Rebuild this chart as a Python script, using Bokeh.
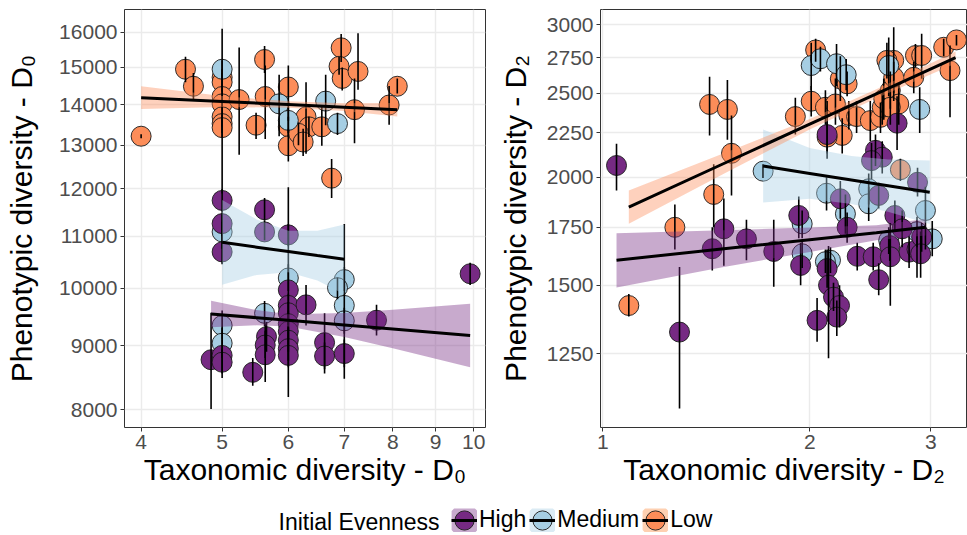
from bokeh.plotting import figure
from bokeh.layouts import column, row
from bokeh.models import Range1d, FixedTicker, Legend, LegendItem, Label, BasicTickFormatter
from bokeh.embed import file_html
from bokeh.resources import INLINE

FONT = "Liberation Sans"
GROUPS = ["High", "Medium", "Low"]
COLORS = {"High": "#762A83", "Medium": "#A6CEE3", "Low": "#FC8D59"}
# ribbon colours (alpha 0.4 over white), used for the legend key backgrounds
KEY_BG = {"High": "#C8AACD", "Medium": "#DBEBF4", "Low": "#FED0B1"}

# ---------------- Panel 1: D0 ----------------
d0_xticks = [4, 5, 6, 7, 8, 9, 10]
d0_xlabels = ["4", "5", "6", "7", "8", "9", "10"]
d0_yticks = [8000, 9000, 10000, 11000, 12000, 13000, 14000, 15000, 16000]
d0_ylabels = ["8000", "9000", "10000", "11000", "12000", "13000", "14000", "15000", "16000"]

d0_high_x = [5.0, 5.0, 5.0, 5.62, 5.62, 6.0, 6.0, 6.0, 6.0, 6.0, 6.0, 6.0, 6.0, 6.0, 6.3, 6.63, 6.63, 7.0, 7.65, 9.9, 5.65, 5.63, 5.63, 5.44, 4.85, 5.0, 5.0]
d0_high_y = [11750, 11260, 10690, 11550, 11090, 11030, 9970, 9690, 9560, 9370, 9240, 9090, 8950, 8840, 9700, 9050, 8830, 8870, 9430, 10270, 9150, 9010, 8850, 8570, 8770, 8840, 8730]
d0_high_lo = [11500, 11000, 10450, 11330, 10920, 10800, 8190, 9450, 9350, 9150, 9050, 8900, 8750, 8650, 9340, 8550, 8620, 8650, 9170, 10060, 8900, 8800, 8420, 8360, 8010, 8480, 8550]
d0_high_hi = [12000, 11500, 11300, 11800, 11330, 11250, 12040, 9900, 9750, 9600, 9450, 9300, 9150, 9050, 10060, 9550, 9050, 9100, 9700, 10480, 9400, 9250, 9370, 8800, 9560, 9100, 8950]

d0_med_x = [5.0, 5.85, 6.0, 6.65, 6.87, 5.0, 6.0, 7.0, 6.87, 7.0, 7.0, 5.0, 5.0, 5.62]
d0_med_y = [14950, 14030, 13610, 14100, 13530, 11090, 10190, 10160, 10010, 9690, 9420, 9340, 9040, 9550]
d0_med_lo = [14700, 13220, 13300, 13490, 13250, 10750, 9950, 9950, 9800, 8470, 9200, 9100, 8800, 9330]
d0_med_hi = [15200, 14800, 13950, 14800, 13800, 11450, 10450, 10400, 10200, 11250, 9650, 9600, 9300, 9770]

d0_low_x = [4.0, 4.52, 4.62, 5.0, 5.0, 5.0, 5.0, 5.0, 5.0, 5.0, 5.24, 5.62, 5.63, 5.49, 6.0, 6.0, 6.0, 6.3, 6.35, 6.17, 6.25, 6.58, 6.94, 6.9, 6.96, 7.27, 7.2, 6.76, 7.92, 8.1]
d0_low_y = [13220, 14950, 14490, 14730, 14600, 14220, 14030, 13700, 13530, 13430, 14140, 15220, 14220, 13490, 14470, 13450, 12990, 13700, 13450, 13290, 13080, 13450, 15550, 15030, 14700, 14890, 13880, 12240, 14000, 14490]
d0_low_lo = [13170, 14600, 14150, 14500, 14350, 13950, 11900, 13450, 13300, 13200, 12780, 14850, 13150, 13150, 13600, 13200, 12620, 12800, 13200, 13000, 12750, 12990, 15150, 14800, 14380, 14400, 13050, 11800, 13500, 14300]
d0_low_hi = [13270, 15300, 14850, 14950, 14850, 14500, 16100, 13950, 13750, 13650, 15560, 15600, 15050, 13800, 15050, 13700, 13400, 14600, 13700, 13550, 13400, 13950, 15950, 15300, 15000, 15970, 14700, 12680, 14500, 14700]

# fitted lines and confidence ribbons
d0_high_fx = [4.85, 5.5, 6.0, 7.0, 8.0, 9.9]
d0_high_fy = [9540, 9474, 9428, 9348, 9279, 9170]
d0_high_flo = [9311, 9342, 9321, 9145, 8957, 8650]
d0_high_fhi = [9775, 9607, 9536, 9556, 9613, 9720]

d0_med_fx = [5.0, 5.5, 6.0, 6.5, 7.0]
d0_med_fy = [10880, 10784, 10698, 10618, 10545]
d0_med_flo = [10065, 10248, 10296, 10144, 9892]
d0_med_fhi = [11761, 11348, 11115, 11114, 11241]

d0_low_fx = [4.0, 5.0, 6.0, 7.0, 8.1]
d0_low_fy = [14190, 14091, 14011, 13944, 13880]
d0_low_flo = [13898, 13951, 13927, 13847, 13709]
d0_low_fhi = [14488, 14232, 14095, 14042, 14054]

# ---------------- Panel 2: D2 ----------------
d2_xticks = [1, 2, 3]
d2_xlabels = ["1", "2", "3"]
d2_yticks = [1250, 1500, 1750, 2000, 2250, 2500, 2750, 3000]
d2_ylabels = ["1250", "1500", "1750", "2000", "2250", "2500", "2750", "3000"]

d2_high_x = [1.047, 1.293, 1.443, 1.5, 1.618, 1.773, 1.928, 1.94, 2.05, 2.12, 2.13, 2.166, 2.21, 2.19, 2.12, 2.216, 2.267, 2.345, 2.474, 2.52, 2.615, 2.62, 2.66, 2.726, 2.79, 2.865, 2.91, 2.9, 2.68, 2.493, 2.55, 2.46, 2.52, 2.87]
d2_high_y = [2063, 1324, 1653, 1743, 1697, 1641, 1806, 1581, 1366, 1568, 1500, 1453, 1421, 1378, 2240, 1888, 1750, 1620, 1618, 1522, 1667, 1618, 1806, 1743, 1638, 1650, 1705, 1631, 2309, 2148, 2109, 2090, 1905, 1973]
d2_high_lo = [1930, 1080, 1560, 1580, 1603, 1494, 1700, 1500, 1290, 1490, 1235, 1400, 1340, 1310, 2100, 1790, 1680, 1560, 1560, 1460, 1600, 1420, 1730, 1660, 1570, 1530, 1640, 1530, 2150, 2060, 2020, 1990, 1840, 1900]
d2_high_hi = [2186, 1574, 1750, 1890, 1785, 1786, 1900, 1680, 1450, 1650, 1665, 1510, 1500, 1440, 2450, 1980, 1820, 1680, 1680, 1590, 1740, 1770, 1880, 1830, 1710, 1720, 1770, 1730, 2480, 2240, 2200, 2190, 1970, 2050]

d2_med_x = [1.711, 2.01, 2.073, 2.188, 2.26, 2.606, 2.891, 2.116, 2.437, 2.437, 2.254, 2.947, 3.015, 1.95, 1.95, 2.144, 2.108, 2.606, 2.865]
d2_med_y = [2032, 2692, 2741, 2705, 2627, 2692, 2395, 1916, 1939, 1863, 1814, 1830, 1697, 1766, 1631, 1603, 1597, 1690, 1730]
d2_med_lo = [1995, 2520, 2650, 2550, 2520, 2480, 2250, 1830, 1860, 1780, 1720, 1650, 1620, 1700, 1570, 1550, 1550, 1630, 1660]
d2_med_hi = [2070, 2860, 2830, 2850, 2740, 2900, 2540, 2000, 2020, 1950, 1910, 1950, 1780, 1830, 1690, 1660, 1650, 1750, 1800]

d2_low_x = [1.091, 1.273, 1.43, 1.518, 1.539, 1.45, 1.906, 2.01, 2.04, 2.108, 2.18, 2.216, 2.267, 2.28, 2.23, 2.34, 2.45, 2.535, 2.55, 2.563, 2.62, 2.65, 2.65, 2.695, 2.62, 2.834, 2.85, 2.91, 3.133, 3.27, 3.2, 2.71, 2.59, 2.12]
d2_low_y = [1421, 1750, 2427, 2395, 2131, 1910, 2350, 2448, 2806, 2409, 2430, 2598, 2564, 2357, 2235, 2350, 2325, 2345, 2409, 2463, 2519, 2609, 2729, 2430, 2409, 2609, 2765, 2765, 2826, 2882, 2656, 2040, 2729, 2225]
d2_low_lo = [1380, 1650, 2235, 2210, 1905, 1750, 2240, 2350, 2720, 2300, 2300, 2450, 2480, 2270, 2130, 2250, 2200, 2250, 2300, 2330, 2400, 2500, 2450, 2300, 2300, 2500, 2680, 2600, 2760, 2840, 2345, 1980, 2600, 2130]
d2_low_hi = [1465, 1860, 2612, 2590, 2357, 2070, 2470, 2550, 2890, 2520, 2600, 2760, 2650, 2450, 2340, 2450, 2450, 2440, 2520, 2600, 2650, 2720, 2980, 2560, 2520, 2720, 2850, 2930, 2890, 2920, 2840, 2100, 2860, 2320]

d2_high_fx = [1.047, 1.5, 2.0, 2.5, 2.947]
d2_high_fy = [1603, 1653, 1693, 1725, 1750]
d2_high_flo = [1491, 1574, 1639, 1691, 1712]
d2_high_fhi = [1723, 1736, 1749, 1760, 1789]

d2_med_fx = [1.711, 2.0, 2.3, 2.6, 2.99]
d2_med_fy = [2060, 2020, 1985, 1955, 1921]
d2_med_flo = [1869, 1888, 1862, 1824, 1766]
d2_med_fhi = [2270, 2161, 2116, 2096, 2090]

d2_low_fx = [1.091, 1.5, 2.0, 2.5, 3.26]
d2_low_fy = [1847, 2074, 2303, 2497, 2750]
d2_low_flo = [1767, 2018, 2271, 2467, 2707]
d2_low_fhi = [1930, 2132, 2335, 2527, 2794]


def make_panel(width, min_left, min_right, xr, yr, xticks, xlabels, yticks, ylabels,
               xtitle, ytitle, ytitle_standoff, pts, fits):
    p = figure(width=width, height=497, x_axis_type="log", y_axis_type="log",
               x_range=Range1d(*xr), y_range=Range1d(*yr),
               output_backend="svg", toolbar_location=None,
               min_border_left=min_left, min_border_right=min_right,
               min_border_top=9, min_border_bottom=70)
    p.outline_line_color = "#333333"
    p.outline_line_width = 1
    p.background_fill_color = "white"
    p.border_fill_color = "white"
    for ax, ticks, labels in ((p.xaxis, xticks, xlabels), (p.yaxis, yticks, ylabels)):
        ax.ticker = FixedTicker(ticks=ticks, minor_ticks=[])
        ax.formatter = BasicTickFormatter(use_scientific=False)
        ax.major_label_overrides = {float(t): s for t, s in zip(ticks, labels)}
        ax.axis_line_color = None
        ax.major_tick_line_color = "#333333"
        ax.major_tick_in = 0
        ax.major_tick_out = 4
        ax.minor_tick_line_color = None
        ax.major_label_text_font = FONT
        ax.major_label_text_font_size = "21px"
        ax.major_label_text_color = "#4D4D4D"
        ax.major_label_standoff = 3
        ax.axis_label_text_font = FONT
        ax.axis_label_text_font_size = "30px"
        ax.axis_label_text_font_style = "normal"
        ax.axis_label_text_color = "black"
    p.xaxis.axis_label = xtitle
    p.yaxis.axis_label = ytitle
    p.xaxis.axis_label_standoff = 1
    p.yaxis.axis_label_standoff = ytitle_standoff
    p.grid.grid_line_color = "#EBEBEB"
    p.grid.grid_line_width = 1.4
    p.grid.minor_grid_line_color = None

    # points (drawn Low, Medium, High)
    for g in ["Low", "Medium", "High"]:
        x, y, lo, hi = pts[g]
        p.scatter(x, y, size=20, marker="circle", fill_color=COLORS[g], fill_alpha=1.0,
                  line_color="#1A1A1A", line_width=0.9)
    # error bars
    for g in ["Low", "Medium", "High"]:
        x, y, lo, hi = pts[g]
        p.segment(x0=x, y0=lo, x1=x, y1=hi, line_color="black", line_width=1.6)
    # smooth fits
    for g in ["High", "Medium", "Low"]:
        fx, fy, flo, fhi = fits[g]
        p.varea(x=fx, y1=flo, y2=fhi, fill_color=COLORS[g], fill_alpha=0.4)
        p.line(fx, fy, line_color="black", line_width=3)
    return p


d0_pts = {"High": (d0_high_x, d0_high_y, d0_high_lo, d0_high_hi),
          "Medium": (d0_med_x, d0_med_y, d0_med_lo, d0_med_hi),
          "Low": (d0_low_x, d0_low_y, d0_low_lo, d0_low_hi)}
d2_pts = {"High": (d2_high_x, d2_high_y, d2_high_lo, d2_high_hi),
          "Medium": (d2_med_x, d2_med_y, d2_med_lo, d2_med_hi),
          "Low": (d2_low_x, d2_low_y, d2_low_lo, d2_low_hi)}

p1 = make_panel(492, 124, 7, (3.821, 10.328), (7744, 16683),
                d0_xticks, d0_xlabels, d0_yticks, d0_ylabels,
                "Taxonomic diversity - D\u2080", "Phenotypic diversity - D\u2080", 18,
                d0_pts,
                {"High": (d0_high_fx, d0_high_fy, d0_high_flo, d0_high_fhi),
                 "Medium": (d0_med_fx, d0_med_fy, d0_med_flo, d0_med_fhi),
                 "Low": (d0_low_fx, d0_low_fy, d0_low_flo, d0_low_fhi)})

p2 = make_panel(475, 108, 0, (0.9923, 3.393), (1027, 3125),
                d2_xticks, d2_xlabels, d2_yticks, d2_ylabels,
                "Taxonomic diversity - D\u2082", "Phenotypic diversity - D\u2082", 12,
                d2_pts,
                {"High": (d2_high_fx, d2_high_fy, d2_high_flo, d2_high_fhi),
                 "Medium": (d2_med_fx, d2_med_fy, d2_med_flo, d2_med_fhi),
                 "Low": (d2_low_fx, d2_low_fy, d2_low_flo, d2_low_fhi)})

# ---------------- legend strip ----------------
pl = figure(width=967, height=38, x_range=Range1d(0, 1), y_range=Range1d(0, 1),
            output_backend="svg", toolbar_location=None,
            x_axis_location=None, y_axis_location=None, min_border=0)
pl.outline_line_color = None
pl.grid.visible = False
items = []
for g in GROUPS:
    gx, gy = d0_pts[g][0][:1], d0_pts[g][1][:1]   # off-range sample so only the key shows
    bg = pl.quad(left=gx, right=gx, bottom=gy, top=gy, fill_color=KEY_BG[g],
                 line_color=KEY_BG[g], line_width=5)
    el = pl.ellipse(x=gx, y=gy, width=20, height=20, width_units="screen",
                    height_units="screen", fill_color=COLORS[g],
                    line_color="#1A1A1A", line_width=0.9)
    ln = pl.line(x=gx + gx, y=gy + gy, line_color="black", line_width=3)
    items.append(LegendItem(label=g, renderers=[bg, el, ln]))
leg = Legend(items=items, orientation="horizontal", location=(451, 2),
             glyph_width=26, glyph_height=24, label_standoff=2, spacing=3,
             padding=0, margin=0, border_line_color=None, background_fill_alpha=0,
             label_text_font=FONT, label_text_font_size="23px", label_text_color="black",
             label_text_baseline="middle")
pl.add_layout(leg)
pl.add_layout(Label(x=278, y=14, x_units="screen", y_units="screen", text="Initial Evenness",
                    text_font=FONT, text_font_size="23px", text_baseline="middle",
                    text_color="black"))

layout = column(row(p1, p2), pl)
open("out.html", "w").write(file_html(layout, INLINE))
